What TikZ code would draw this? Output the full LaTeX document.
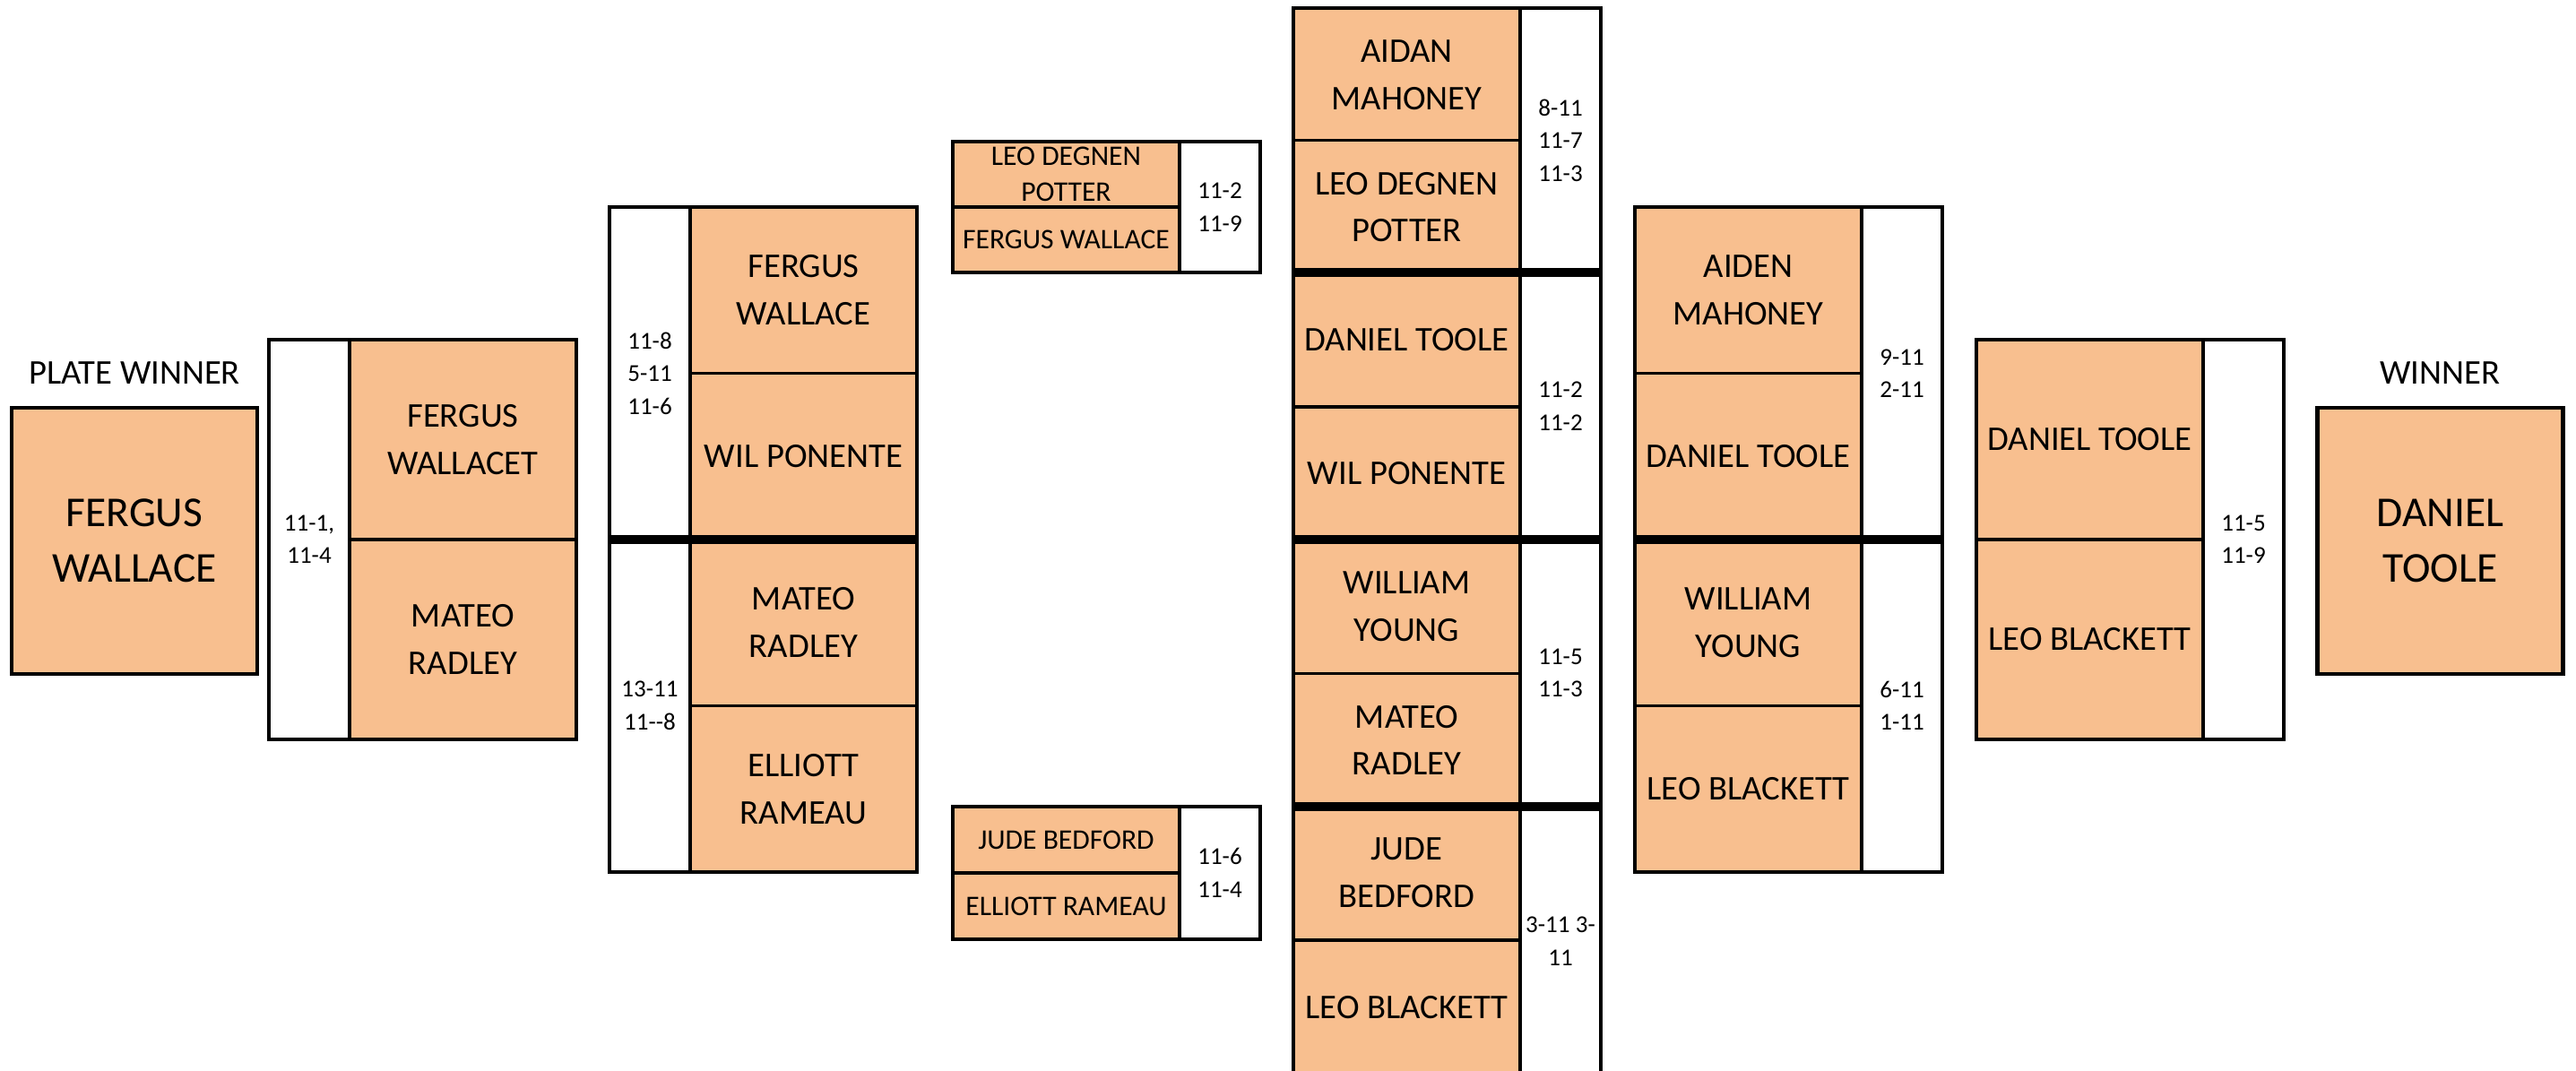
\documentclass[tikz,border=0pt]{standalone}
\usepackage{fontspec}
\setmainfont{Carlito}
\usetikzlibrary{calc}
\definecolor{peach}{RGB}{248,191,143}
\tikzset{
  namecell/.style={
    draw=black,
    line width=1pt,
    fill=peach,
    inner sep=0pt,
    outer sep=0pt,
    align=center,
    minimum width=2.53cm,
    font=\fontsize{11}{15}\selectfont
  },
  smallcell/.style={namecell,font=\fontsize{9}{11.5}\selectfont},
  wincell/.style={namecell,minimum width=2.74cm,minimum height=2.97cm,
    line width=1.2pt,font=\fontsize{13.5}{17.7}\selectfont},
  scorecell/.style={
    draw=black,
    line width=1pt,
    fill=white,
    inner sep=0pt,
    outer sep=0pt,
    align=center,
    minimum width=0.9cm,
    font=\fontsize{7.7}{10.4}\selectfont
  },
  heading/.style={font=\fontsize{11}{13}\selectfont},
  thickrule/.style={line width=2.6pt}
}

\begin{document}
\begin{tikzpicture}[x=1cm,y=1cm]
  \useasboundingbox (0,0) rectangle (28.74,-11.95);

  % plate side
  \node[wincell] (plate) at (1.50,-6.035) {FERGUS\\WALLACE};
  \node[heading] (platelbl) at (1.50,-4.16) {PLATE WINNER};

  \node[scorecell,minimum height=4.46cm] (l1s) at (3.45,-6.02) {11-1,\\11-4};
  \node[namecell,minimum height=2.23cm] (l1a) at (5.165,-4.905) {FERGUS\\WALLACET};
  \node[namecell,minimum height=2.23cm] (l1b) at (5.165,-7.135) {MATEO\\RADLEY};

  \node[scorecell,minimum height=3.71cm] (l2s1) at (7.25,-4.165) {11-8\\5-11\\11-6};
  \node[scorecell,minimum height=3.71cm] (l2s2) at (7.25,-7.875) {13-11\\11-{}-8};
  \foreach \n/\y/\txt in {l2a/-3.2375/{FERGUS\\WALLACE},l2b/-5.0925/{WIL PONENTE},
                          l2c/-6.9475/{MATEO\\RADLEY},l2d/-8.8025/{ELLIOTT\\RAMEAU}} {
    \node[namecell,minimum height=1.855cm] (\n) at (8.965,\y) {\txt};
  }
  \draw[thickrule] (l2s1.south west) -- (l2s1.south west -| l2b.east);

  \node[smallcell,minimum height=0.73cm] (l3a) at (11.895,-1.945) {LEO DEGNEN\\POTTER};
  \node[smallcell,minimum height=0.73cm] (l3b) at (11.895,-2.675) {FERGUS WALLACE};
  \node[scorecell,minimum height=1.46cm] (l3s1) at (13.61,-2.31) {11-2\\11-9};
  \node[smallcell,minimum height=0.74cm] (l3c) at (11.895,-9.37) {JUDE BEDFORD};
  \node[smallcell,minimum height=0.74cm] (l3d) at (11.895,-10.11) {ELLIOTT RAMEAU};
  \node[scorecell,minimum height=1.48cm] (l3s2) at (13.61,-9.74) {11-6\\11-4};

  % centre column
  \foreach \n/\y/\txt in {c1/-0.835/{AIDAN\\MAHONEY},c2/-2.31/{LEO DEGNEN\\POTTER},
                          c3/-3.795/{DANIEL TOOLE},c4/-5.285/{WIL PONENTE},
                          c5/-6.77/{WILLIAM\\YOUNG},c6/-8.26/{MATEO\\RADLEY},
                          c7/-9.74/{JUDE\\BEDFORD},c8/-11.24/{LEO BLACKETT}} {
    \node[namecell,minimum height=1.49cm] (\n) at (15.695,\y) {\txt};
  }
  \foreach \n/\y/\h/\txt in {cs1/-1.565/2.95/{8-11\\11-7\\11-3},cs2/-4.53/2.98/{11-2\\11-2},
                             cs3/-7.51/2.98/{11-5\\11-3},cs4/-10.5/3.0/{3-11 3-\\11}} {
    \node[scorecell,minimum height=\h cm] (\n) at (17.41,\y) {\txt};
  }
  \foreach \n in {cs1,cs2,cs3} {
    \draw[thickrule] (\n.south east) -- (\n.south east -| c1.west);
  }

  % winner side
  \foreach \n/\y/\txt in {r2a/-3.2375/{AIDEN\\MAHONEY},r2b/-5.0925/{DANIEL TOOLE},
                          r2c/-6.9475/{WILLIAM\\YOUNG},r2d/-8.8025/{LEO BLACKETT}} {
    \node[namecell,minimum height=1.855cm] (\n) at (19.505,\y) {\txt};
  }
  \node[scorecell,minimum height=3.71cm] (r2s1) at (21.22,-4.165) {9-11\\2-11};
  \node[scorecell,minimum height=3.71cm] (r2s2) at (21.22,-7.875) {6-11\\1-11};
  \draw[thickrule] (r2s1.south east) -- (r2s1.south east -| r2b.west);

  \node[namecell,minimum height=2.23cm] (r1a) at (23.315,-4.905) {DANIEL TOOLE};
  \node[namecell,minimum height=2.23cm] (r1b) at (23.315,-7.135) {LEO BLACKETT};
  \node[scorecell,minimum height=4.46cm] (r1s) at (25.03,-6.02) {11-5\\11-9};

  \node[wincell] (winner) at (27.225,-6.035) {DANIEL\\TOOLE};
  \node[heading] (winlbl) at (27.225,-4.16) {WINNER};
\end{tikzpicture}
\end{document}
